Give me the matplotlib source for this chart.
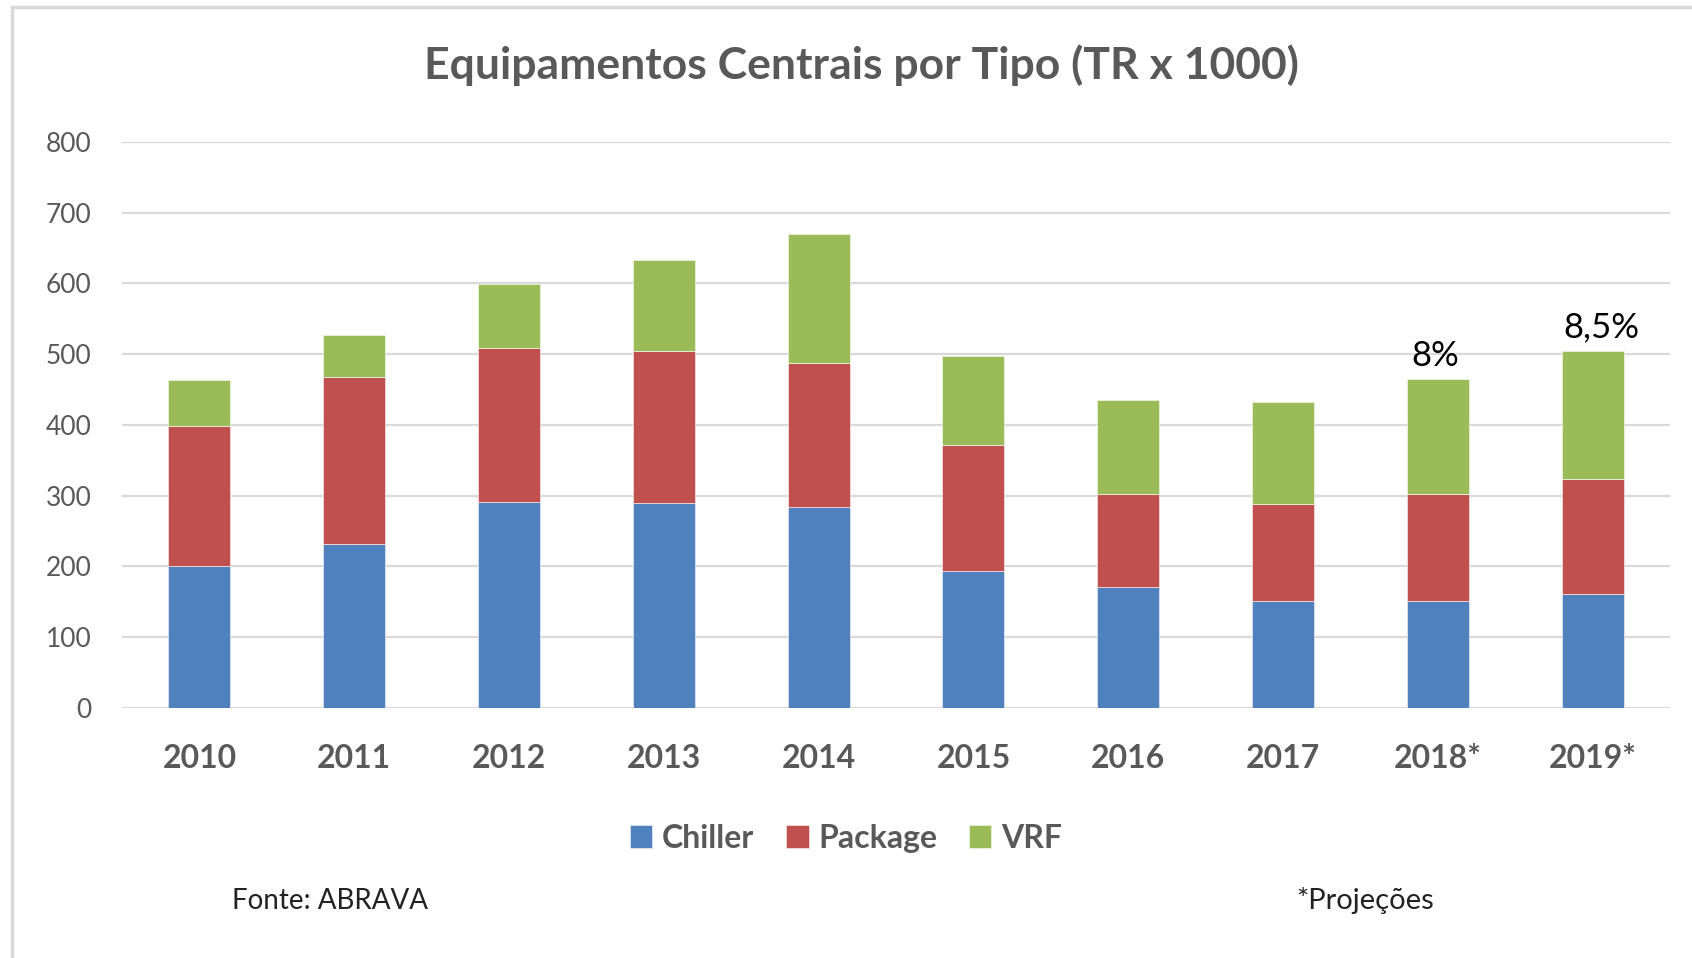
import numpy as np
import matplotlib
matplotlib.use('Agg')
import matplotlib.pyplot as plt
from matplotlib.patches import Rectangle

plt.rcParams['font.family'] = ['Lato', 'DejaVu Sans']

anos = ['2010', '2011', '2012', '2013', '2014', '2015', '2016', '2017', '2018*', '2019*']
chiller = [201, 232, 291, 289, 284, 194, 171, 151, 151, 161]
package = [198, 235, 217, 216, 203, 177, 132, 137, 152, 163]
vrf = [64, 60, 91, 128, 183, 127, 132, 144, 162, 181]
crescimento = {'2018*': '8%', '2019*': '8,5%'}

cor_chiller = '#4F81BD'
cor_package = '#C0504D'
cor_vrf = '#9BBB59'
cinza = '#595959'

fig = plt.figure(figsize=(16.92, 9.58), dpi=100)
ax = fig.add_axes([0.0721, 0.261, 0.9149, 0.591])

x = np.arange(len(anos))
w = 0.4
base2 = np.array(chiller)
base3 = base2 + np.array(package)
total = base3 + np.array(vrf)

ax.bar(x, chiller, w, color=cor_chiller, label='Chiller', zorder=3, edgecolor='#dce6f2', linewidth=0.6)
ax.bar(x, package, w, bottom=base2, color=cor_package, label='Package', zorder=3, edgecolor='#f2dcdb', linewidth=0.6)
ax.bar(x, vrf, w, bottom=base3, color=cor_vrf, label='VRF', zorder=3, edgecolor='#ebf1de', linewidth=0.6)

for i, a in enumerate(anos):
    if a in crescimento:
        ax.annotate(crescimento[a], (x[i], total[i]), xytext=(6 if i == 9 else -2, 5),
                    textcoords='offset points', ha='center', va='bottom',
                    fontsize=25, color='black')

ax.set_xlim(-0.5, len(anos) - 0.5)
ax.set_ylim(0, 800)
ax.set_yticks(np.arange(0, 801, 100))
ax.set_xticks(x)
ax.set_xticklabels(anos, fontsize=23, fontweight='bold', color=cinza)
ax.tick_params(axis='y', labelsize=19, labelcolor=cinza, length=0, pad=22)
ax.tick_params(axis='x', length=0, pad=26)
ax.grid(axis='y', color='#D9D9D9', linewidth=1.6, zorder=0)
for s in ax.spines.values():
    s.set_visible(False)

fig.text(0.509, 0.932, 'Equipamentos Centrais por Tipo (TR x 1000)', ha='center', va='center',
         fontsize=32, fontweight='bold', color=cinza)

leg = fig.legend(loc='center', bbox_to_anchor=(0.5, 0.125), ncol=3, frameon=False,
                 handlelength=0.7, handleheight=0.7, handletextpad=0.3, columnspacing=1.0,
                 prop={'size': 23, 'weight': 'bold'})
for t in leg.get_texts():
    t.set_color(cinza)

fig.text(0.137, 0.06, 'Fonte: ABRAVA', ha='left', va='center', fontsize=20, color='#222222')
fig.text(0.766, 0.06, '*Projeções', ha='left', va='center', fontsize=21, color='#222222')

fig.patches.append(Rectangle((0.007, -0.1), 1.2, 1.093, transform=fig.transFigure,
                             fill=False, edgecolor='#D9D9D9', linewidth=2.5))

fig.savefig('out.png', dpi=100)
